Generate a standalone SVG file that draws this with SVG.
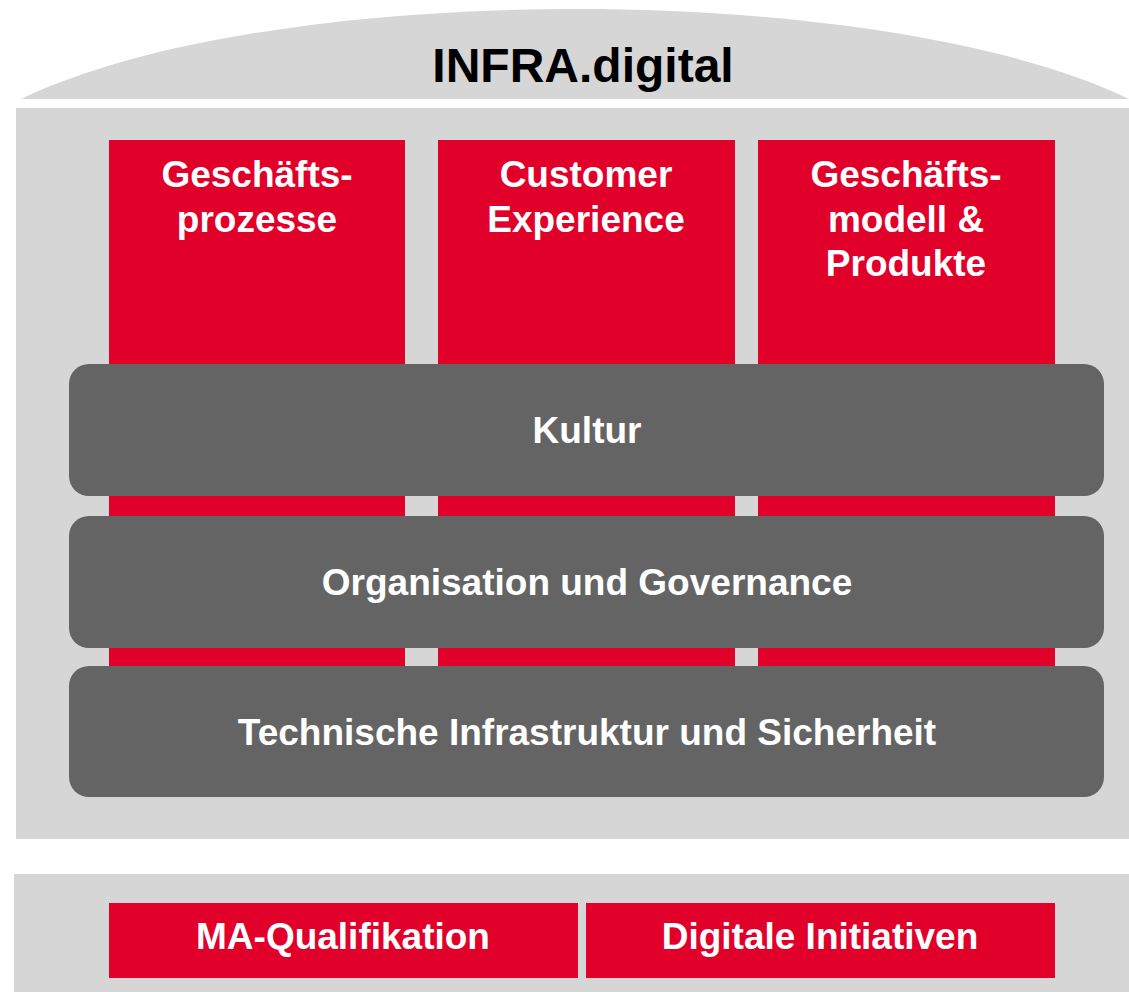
<svg xmlns="http://www.w3.org/2000/svg" width="1129" height="992" viewBox="0 0 1129 992">
<style>
.panel{fill:#d6d6d6}
.red{fill:#e1002a}
.bar{fill:#646464}
text{font-family:"Liberation Sans",Arial,sans-serif;font-weight:bold;text-anchor:middle}
.w{fill:#ffffff;font-size:37px}
.t{fill:#000000;font-size:48px}
</style>
<rect width="1129" height="992" fill="#ffffff"/>
<g id="dome">
<path class="panel" d="M21,99 C271,-21 879,-21 1129,99 Z"/>
<text class="t" x="583" y="82">INFRA.digital</text>
</g>
<rect id="main-panel" class="panel" x="16" y="108" width="1113" height="731"/>
<rect id="bottom-panel" class="panel" x="14" y="874" width="1115" height="118"/>
<g id="col1">
<rect class="red" x="109" y="140" width="296" height="526"/>
<text class="w" x="257" y="187">Geschäfts-</text>
<text class="w" x="257" y="232">prozesse</text>
</g>
<g id="col2">
<rect class="red" x="438" y="140" width="297" height="526"/>
<text class="w" x="586" y="187">Customer</text>
<text class="w" x="586" y="232">Experience</text>
</g>
<g id="col3">
<rect class="red" x="758" y="140" width="297" height="526"/>
<text class="w" x="906" y="187">Geschäfts-</text>
<text class="w" x="906" y="232">modell &amp;</text>
<text class="w" x="906" y="276">Produkte</text>
</g>
<g id="kultur">
<rect class="bar" x="69" y="364" width="1035" height="132" rx="20"/>
<text class="w" x="587" y="443">Kultur</text>
</g>
<g id="organisation">
<rect class="bar" x="69" y="516" width="1035" height="132" rx="20"/>
<text class="w" x="587" y="595">Organisation und Governance</text>
</g>
<g id="technik">
<rect class="bar" x="69" y="666" width="1035" height="131" rx="20"/>
<text class="w" x="587" y="745">Technische Infrastruktur und Sicherheit</text>
</g>
<g id="ma">
<rect class="red" x="109" y="903" width="469" height="75"/>
<text class="w" x="343" y="949">MA-Qualifikation</text>
</g>
<g id="digital">
<rect class="red" x="586" y="903" width="469" height="75"/>
<text class="w" x="820" y="949">Digitale Initiativen</text>
</g>
<g id="connectors"/>
</svg>
